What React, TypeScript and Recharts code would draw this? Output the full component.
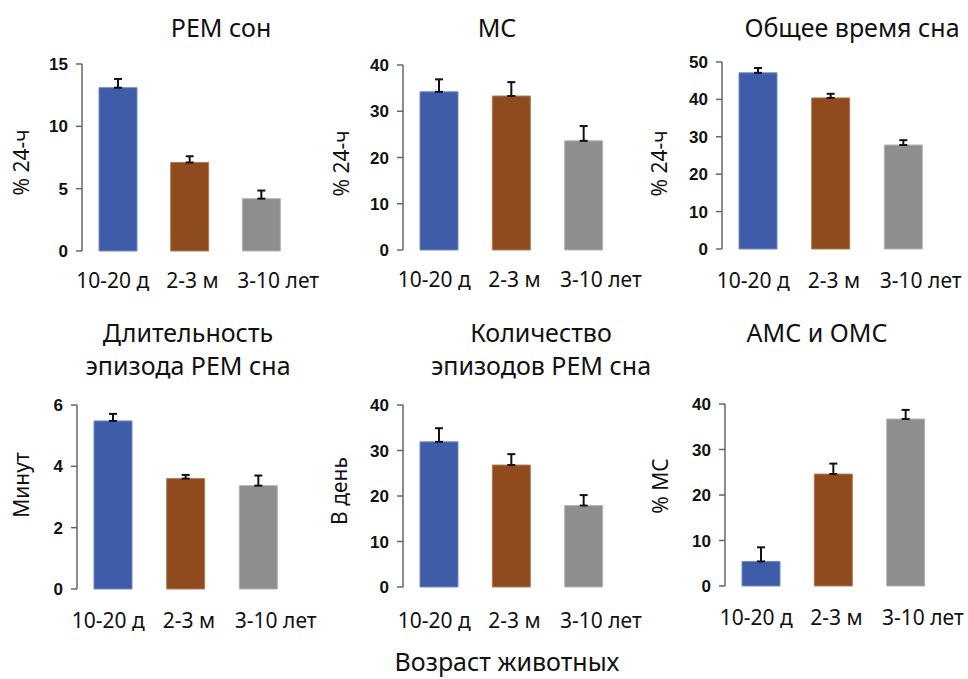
import { BarChart, Bar, Cell, XAxis, YAxis, ErrorBar } from 'recharts'

const categories = ['10-20 д', '2-3 м', '3-10 лет']
const barColors = ['#3F5CA8', '#8F4A1D', '#8E8E8E']
const barEdges = ['#7088C4', '#B27A55', '#B3B3B3']

const remValues = [13.1, 7.1, 4.2]
const remErrors = [0.7, 0.5, 0.65]
const msValues = [34.2, 33.3, 23.6]
const msErrors = [2.7, 3.0, 3.2]
const totalValues = [47.1, 40.4, 27.8]
const totalErrors = [1.3, 1.1, 1.3]
const durationValues = [5.48, 3.6, 3.37]
const durationErrors = [0.23, 0.12, 0.33]
const countValues = [31.9, 26.8, 17.9]
const countErrors = [3.0, 2.4, 2.3]
const amsValues = [5.4, 24.6, 36.7]
const amsErrors = [3.1, 2.3, 2.0]

const remTicks = [0, 5, 10, 15]
const msTicks = [0, 10, 20, 30, 40]
const totalTicks = [0, 10, 20, 30, 40, 50]
const durationTicks = [0, 2, 4, 6]
const countTicks = [0, 10, 20, 30, 40]
const amsTicks = [0, 10, 20, 30, 40]

const yLabels = ['% 24-ч', '% 24-ч', '% 24-ч', 'Минут', 'В день', '% МС']
const titles = [
  ['РЕМ сон'],
  ['МС'],
  ['Общее время сна'],
  ['Длительность', 'эпизода РЕМ сна'],
  ['Количество', 'эпизодов РЕМ сна'],
  ['АМС и ОМС'],
]
const xTitle = 'Возраст животных'

const edgeTicks = [0, 1, 2, 3]
const labelShifts = [-5, 3, 17]
const FONT = '"Noto Sans", "Open Sans", sans-serif'

function makeRows(values: number[], errors: number[]) {
  return categories.map((name, i) => ({ name, value: values[i], err: [0, errors[i]] }))
}

// layout of each panel: chart box and plot area (page coords)
const panels = [
  { values: remValues, errors: remErrors, ticks: remTicks, left: 0, top: 0, w: 320, h: 300, px0: 82, px1: 297, py0: 64, py1: 251, dx: -19, dy: 5, tm: 22, tx: 221, ty: [37] },
  { values: msValues, errors: msErrors, ticks: msTicks, left: 320, top: 0, w: 336, h: 300, px0: 403, px1: 620, py0: 65, py1: 250, dx: -19.5, dy: 6, tm: 22, tx: 497, ty: [37] },
  { values: totalValues, errors: totalErrors, ticks: totalTicks, left: 640, top: 0, w: 328, h: 300, px0: 722, px1: 940, py0: 62, py1: 249, dx: -21, dy: 8, tm: 24, tx: 852, ty: [37] },
  { values: durationValues, errors: durationErrors, ticks: durationTicks, left: 0, top: 340, w: 320, h: 300, px0: 77, px1: 295, py0: 405, py1: 589, dx: -16.5, dy: -12, tm: 24, tx: 188, ty: [342, 375] },
  { values: countValues, errors: countErrors, ticks: countTicks, left: 320, top: 340, w: 336, h: 300, px0: 403, px1: 620, py0: 405, py1: 587, dx: -21.5, dy: -5, tm: 26, tx: 541, ty: [342, 375] },
  { values: amsValues, errors: amsErrors, ticks: amsTicks, left: 640, top: 340, w: 328, h: 300, px0: 725, px1: 942, py0: 404, py1: 586, dx: -21.5, dy: -9, tm: 24, tx: 817, ty: [342] },
]

function CategoryTick(props: any) {
  const { x, y, payload, index } = props
  return (
    <text x={x + labelShifts[index]} y={y + 15} textAnchor="middle" fontSize={21} fontFamily={FONT} fill="#111">
      {payload.value}
    </text>
  )
}

function Panel({ p, i }: { p: (typeof panels)[number]; i: number }) {
  const data = makeRows(p.values, p.errors)
  const top = p.py0 - p.top
  const yWidth = p.px0 - p.left
  const right = p.left + p.w - p.px1
  const bottom = p.top + p.h - p.py1
  const max = p.ticks[p.ticks.length - 1]
  return (
    <div style={{ position: 'absolute', left: p.left, top: p.top }}>
      <BarChart
        width={p.w}
        height={p.h}
        data={data}
        margin={{ top, left: 0, right, bottom: 0 }}
        barCategoryGap={0}
        style={{ overflow: 'visible' }}
      >
        <XAxis
          xAxisId="edge"
          type="number"
          domain={[0, 3]}
          ticks={edgeTicks}
          tick={false}
          height={0}
          tickSize={6}
          allowDataOverflow
          stroke="#666"
          strokeWidth={1.5}
        />
        <XAxis
          dataKey="name"
          height={bottom}
          axisLine={false}
          tickLine={false}
          tickSize={0}
          tickMargin={p.tm}
          interval={0}
          tick={(t: any) => <CategoryTick {...t} />}
        />
        <YAxis
          width={yWidth}
          domain={[0, max]}
          ticks={p.ticks}
          interval={0}
          tickSize={6}
          tickMargin={8}
          stroke="#666"
          strokeWidth={1.5}
          tick={{ fontSize: 17, fontWeight: 700, fontFamily: '"Liberation Sans", Arial, sans-serif', fill: '#111' }}
          label={{
            value: yLabels[i],
            angle: -90,
            position: 'center',
            dx: p.dx,
            dy: p.dy,
            fontSize: 21,
            fontFamily: FONT,
            fill: '#111',
          }}
        />
        <Bar dataKey="value" barSize={38} isAnimationActive={false} strokeWidth={1}>
          {data.map((_, k) => (
            <Cell key={`cell-${k}`} fill={barColors[k]} stroke={barEdges[k]} />
          ))}
          <ErrorBar dataKey="err" width={4} stroke="#111" strokeWidth={2} direction="y" isAnimationActive={false} />
        </Bar>
      </BarChart>
    </div>
  )
}

export default function App() {
  return (
    <div style={{ position: 'absolute', left: 0, top: 0, width: 968, height: 679, background: '#fff', overflow: 'hidden' }}>
      {panels.map((p, i) => (
        <Panel key={i} p={p} i={i} />
      ))}
      <svg width={968} height={679} style={{ position: 'absolute', left: 0, top: 0, pointerEvents: 'none' }}>
        {panels.map((p, i) =>
          titles[i].map((line, j) => (
            <text key={`t-${i}-${j}`} x={p.tx} y={p.ty[j]} textAnchor="middle" fontSize={25} fontFamily={FONT} fill="#111">
              {line}
            </text>
          ))
        )}
        <text x={507} y={671} textAnchor="middle" fontSize={25} fontFamily={FONT} fill="#111">
          {xTitle}
        </text>
      </svg>
    </div>
  )
}
